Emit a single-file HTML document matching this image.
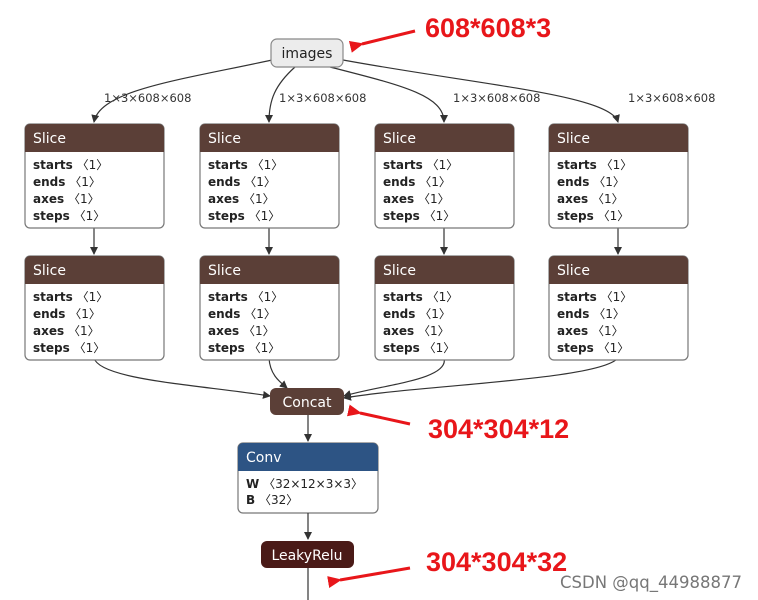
<!DOCTYPE html>
<html><head><meta charset="utf-8"><style>
html,body{margin:0;padding:0;background:#fff;}
svg{display:block;}
text{font-family:"DejaVu Sans","Liberation Sans",sans-serif;}
.h{fill:#fff;font-size:14px;}
.a{font-size:12px;fill:#222;}
.b{font-weight:bold;}
.lbl{font-size:11.5px;fill:#333;}
.red{font-family:"Liberation Sans",sans-serif;font-weight:bold;font-size:27px;fill:#e8161a;}
.e{fill:none;stroke:#333;stroke-width:1.2;}
</style></head><body>
<svg width="758" height="600" viewBox="0 0 758 600" xmlns="http://www.w3.org/2000/svg">
<defs>
<marker id="ar" markerWidth="8" markerHeight="8" refX="7" refY="4" orient="auto" markerUnits="userSpaceOnUse">
<path d="M0,0 L8,4 L0,8 z" fill="#333"/></marker>
<marker id="rr" markerWidth="14" markerHeight="12" refX="2" refY="6" orient="auto" markerUnits="userSpaceOnUse">
<path d="M14,0 L0,6 L14,12 z" fill="#e8161a"/></marker>
</defs>

<path class="e" d="M272,60 C180,80 100,90 94,122" marker-end="url(#ar)"/>
<path class="e" d="M295,67 C275,85 269,100 269,122" marker-end="url(#ar)"/>
<path class="e" d="M330,67 C400,85 444,95 444,122" marker-end="url(#ar)"/>
<path class="e" d="M343,60 C480,85 610,95 618,122" marker-end="url(#ar)"/>
<text class="lbl" x="104" y="102">1×3×608×608</text>
<text class="lbl" x="279" y="102">1×3×608×608</text>
<text class="lbl" x="453" y="102">1×3×608×608</text>
<text class="lbl" x="628" y="102">1×3×608×608</text>

<g class="e">
<path d="M94,228 V254" marker-end="url(#ar)"/>
<path d="M269,228 V254" marker-end="url(#ar)"/>
<path d="M444,228 V254" marker-end="url(#ar)"/>
<path d="M618,228 V254" marker-end="url(#ar)"/>
</g>

<path class="e" d="M94,358 C100,380 200,385 270,396" marker-end="url(#ar)"/>
<path class="e" d="M269,358 C270,375 280,382 287,388" marker-end="url(#ar)"/>
<path class="e" d="M444,358 C450,380 380,385 344,396" marker-end="url(#ar)"/>
<path class="e" d="M618,358 C600,380 420,385 344,398" marker-end="url(#ar)"/>

<rect x="271" y="39" width="72" height="28" rx="6" fill="#ececec" stroke="#888" stroke-width="1.2"/>
<text x="307" y="58" text-anchor="middle" font-size="14" fill="#222">images</text>

<g id="s">
<rect x="25" y="124" width="139" height="104" rx="5" fill="#fff" stroke="#777" stroke-width="1.2"/>
<path d="M30,124 H159 A5,5 0 0 1 164,129 V152 H25 V129 A5,5 0 0 1 30,124 Z" fill="#5b3f37"/>
<text class="h" x="33" y="143">Slice</text>
<text class="a" x="33" y="169"><tspan class="b">starts</tspan> 〈1〉</text>
<text class="a" x="33" y="186"><tspan class="b">ends</tspan> 〈1〉</text>
<text class="a" x="33" y="203"><tspan class="b">axes</tspan> 〈1〉</text>
<text class="a" x="33" y="220"><tspan class="b">steps</tspan> 〈1〉</text>
</g>
<use href="#s" x="175"/><use href="#s" x="350"/><use href="#s" x="524"/>
<use href="#s" y="132"/><use href="#s" x="175" y="132"/><use href="#s" x="350" y="132"/><use href="#s" x="524" y="132"/>

<rect x="270" y="388" width="74" height="27" rx="6" fill="#5b3f37"/>
<text class="h" x="307" y="407" text-anchor="middle">Concat</text>
<path class="e" d="M308,415 V441" marker-end="url(#ar)"/>

<rect x="238" y="443" width="140" height="70" rx="5" fill="#fff" stroke="#777" stroke-width="1.2"/>
<path d="M243,443 H373 A5,5 0 0 1 378,448 V471 H238 V448 A5,5 0 0 1 243,443 Z" fill="#2d5484"/>
<text class="h" x="246" y="462">Conv</text>
<text class="a" x="246" y="488"><tspan class="b">W</tspan> 〈32×12×3×3〉</text>
<text class="a" x="246" y="504"><tspan class="b">B</tspan> 〈32〉</text>
<path class="e" d="M308,513 V539" marker-end="url(#ar)"/>

<rect x="261" y="541" width="93" height="27" rx="6" fill="#4a1a17"/>
<text class="h" x="307" y="560" text-anchor="middle">LeakyRelu</text>
<path class="e" d="M308,568 V600"/>

<path d="M415,31 L362,44" stroke="#e8161a" stroke-width="3" marker-end="url(#rr)"/>
<text class="red" x="425" y="37">608*608*3</text>
<path d="M410,424 L360,413" stroke="#e8161a" stroke-width="3" marker-end="url(#rr)"/>
<text class="red" x="428" y="438">304*304*12</text>
<path d="M410,568 L340,580" stroke="#e8161a" stroke-width="3" marker-end="url(#rr)"/>
<text class="red" x="426" y="571">304*304*32</text>

<text x="560" y="588" font-family="Liberation Sans,sans-serif" font-size="16.5" fill="#777">CSDN @qq_44988877</text>
</svg>
</body></html>
